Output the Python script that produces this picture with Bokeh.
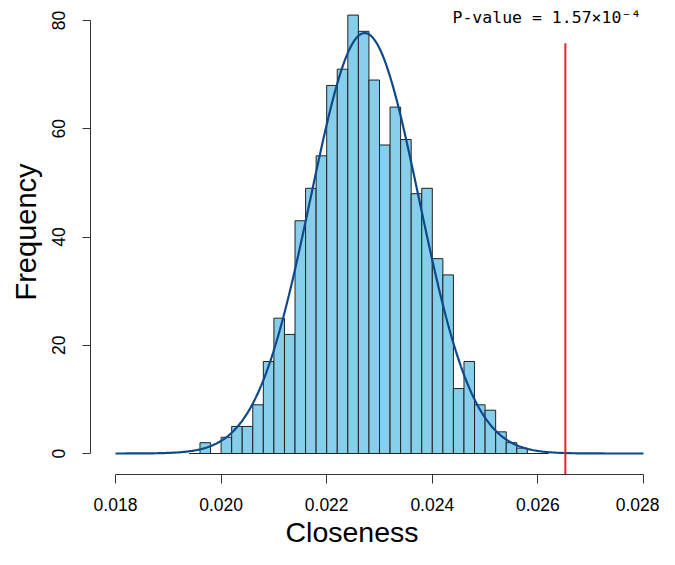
import numpy as np
from bokeh.plotting import figure
from bokeh.models import Label, FixedTicker, Range1d, Title
from bokeh.embed import file_html
from bokeh.resources import INLINE

# ---- data ----
bin_start = 0.0194
bin_width = 0.0002
counts = [0, 2, 0, 3, 5, 5, 9, 17, 25, 22, 43, 49, 55, 68, 71, 81, 78, 69,
          57, 64, 58, 48, 49, 36, 33, 12, 17, 9, 8, 4, 2, 1, 0, 0]
fit_mean = 0.02272
fit_sd = 0.001027
observed = 0.02652
x_ticks = [0.018, 0.020, 0.022, 0.024, 0.026, 0.028]
x_tick_labels = ["0.018", "0.020", "0.022", "0.024", "0.026", "0.028"]
y_ticks = [0, 20, 40, 60, 80]
pvalue_text = "P-value = 1.57\u00d710\u207b\u2074"

lefts = [bin_start + i * bin_width for i in range(len(counts))]
rights = [l + bin_width for l in lefts]
n_total = sum(counts)

# fitted normal curve scaled to counts
xc = np.linspace(0.018, 0.028, 400)
yc = n_total * bin_width / (fit_sd * np.sqrt(2 * np.pi)) * np.exp(-0.5 * ((xc - fit_mean) / fit_sd) ** 2)

XPX = 52800.0  # pixels per x unit
YPX = 5.4125   # pixels per count

p = figure(width=659, height=549, output_backend="svg", toolbar_location=None,
           x_range=Range1d(0.018 - 25 / XPX, 0.028 + 16 / XPX),
           y_range=Range1d(-21 / YPX, 443 / YPX),
           min_border_left=90, min_border_right=0, min_border_top=10, min_border_bottom=75)
p.outline_line_color = None
p.grid.visible = False
p.background_fill_color = "white"

p.quad(left=lefts, right=rights, bottom=0, top=counts, fill_color="#87CEEB",
       line_color="#222222", line_width=1)
p.line(xc, yc, line_color="#0E4A8A", line_width=2.2)
p.segment(x0=[observed], y0=[-21 / YPX], x1=[observed], y1=[75.8], line_color="#E8202A", line_width=2)

font = "Liberation Sans"
ax = p.xaxis[0]
ax.bounds = (0.018, 0.028)
ax.ticker = FixedTicker(ticks=x_ticks)
ax.major_label_overrides = {t: s for t, s in zip(x_ticks, x_tick_labels)}
ax.minor_tick_line_color = None
ax.major_tick_out = 9
ax.major_tick_in = 0
ax.axis_line_color = "#333333"
ax.major_tick_line_color = "#333333"
ax.major_label_text_font = font
ax.major_label_text_font_size = "17.5px"
ax.major_label_text_color = "black"
ax.major_label_standoff = 14

ay = p.yaxis[0]
ay.bounds = (0, 80)
ay.ticker = FixedTicker(ticks=y_ticks)
ay.minor_tick_line_color = None
ay.major_tick_out = 8
ay.major_tick_in = 0
ay.axis_line_color = "#333333"
ay.major_tick_line_color = "#333333"
ay.major_label_text_font = font
ay.major_label_text_font_size = "17.5px"
ay.major_label_text_color = "black"
ay.major_label_orientation = "vertical"
ay.major_label_standoff = 18

p.add_layout(Title(text="Closeness", align="left", offset=195, text_font=font,
                   text_font_size="28.5px", text_font_style="normal", text_color="black",
                   standoff=0), "below")
p.add_layout(Title(text="Frequency", align="left", offset=174, text_font=font,
                   text_font_size="29px", text_font_style="normal", text_color="black",
                   standoff=14), "left")
p.add_layout(Label(x=0.018 + (452 - 115) / XPX, y=(453 - 17) / YPX, text=pvalue_text,
                   text_font="DejaVu Sans Mono", text_font_size="16.5px", text_align="left",
                   text_baseline="middle", text_color="black"))

open("out.html", "w").write(file_html(p, INLINE))
